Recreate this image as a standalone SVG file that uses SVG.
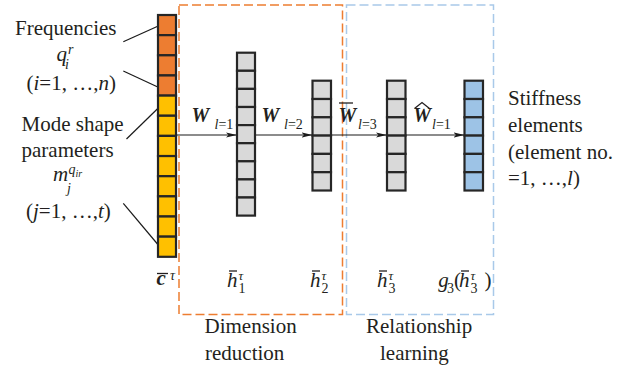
<svg xmlns="http://www.w3.org/2000/svg" width="625" height="368" viewBox="0 0 625 368">
<defs>
<marker id="ah" markerWidth="12" markerHeight="6" refX="11" refY="3" orient="auto" markerUnits="userSpaceOnUse">
<path d="M0,0.5 L11,3 L0,5.5 L2.5,3 Z" fill="#1a1a1a"/>
</marker>
<rect id="cO" width="18" height="20.15" fill="#ED7D31" stroke="#262626" stroke-width="2.2"/>
<rect id="cY" width="18" height="20.15" fill="#FFC000" stroke="#262626" stroke-width="2.2"/>
<rect id="cG1" width="18" height="18.1" fill="#D9D9D9" stroke="#262626" stroke-width="2.2"/>
<rect id="cG" width="18.5" height="18.3" fill="#D9D9D9" stroke="#262626" stroke-width="2.2"/>
<rect id="cB" width="18.5" height="18.3" fill="#9DC3E6" stroke="#262626" stroke-width="2.2"/>
</defs>

<g id="boxes">
<rect id="dim-box" x="179" y="5" width="163.5" height="309.5" fill="none" stroke="#ED7D31" stroke-width="1.5" stroke-dasharray="9 4"/>
<rect id="rel-box" x="346.5" y="5" width="147" height="309.5" fill="none" stroke="#A9C9E9" stroke-width="1.5" stroke-dasharray="9 4"/>
</g>

<g id="connectors" stroke="#1a1a1a" stroke-width="1.2" fill="none">
<line x1="176" y1="135" x2="237" y2="135" marker-end="url(#ah)"/>
<line x1="255" y1="135" x2="312.5" y2="135" marker-end="url(#ah)"/>
<line x1="331" y1="135" x2="387" y2="135" marker-end="url(#ah)"/>
<line x1="405.5" y1="135" x2="464.5" y2="135" marker-end="url(#ah)"/>
<line x1="123.3" y1="41.7" x2="158.3" y2="26"/>
<line x1="123.3" y1="71" x2="158.3" y2="87.3"/>
<line x1="126.5" y1="139" x2="158.3" y2="108"/>
<line x1="123.3" y1="203.3" x2="158.3" y2="245"/>
</g>

<g id="input">
<use href="#cO" x="158" y="15"/>
<use href="#cO" x="158" y="35.15"/>
<use href="#cO" x="158" y="55.3"/>
<use href="#cO" x="158" y="75.45"/>
<use href="#cY" x="158" y="95.6"/>
<use href="#cY" x="158" y="115.75"/>
<use href="#cY" x="158" y="135.9"/>
<use href="#cY" x="158" y="156.05"/>
<use href="#cY" x="158" y="176.2"/>
<use href="#cY" x="158" y="196.35"/>
<use href="#cY" x="158" y="216.5"/>
<use href="#cY" x="158" y="236.65"/>
</g>

<g id="hidden1">
<use href="#cG1" x="237" y="52.7"/>
<use href="#cG1" x="237" y="70.8"/>
<use href="#cG1" x="237" y="88.9"/>
<use href="#cG1" x="237" y="107"/>
<use href="#cG1" x="237" y="125.1"/>
<use href="#cG1" x="237" y="143.2"/>
<use href="#cG1" x="237" y="161.3"/>
<use href="#cG1" x="237" y="179.4"/>
<use href="#cG1" x="237" y="197.5"/>
</g>

<g id="hidden2">
<use href="#cG" x="312.5" y="80.7"/>
<use href="#cG" x="312.5" y="99"/>
<use href="#cG" x="312.5" y="117.3"/>
<use href="#cG" x="312.5" y="135.6"/>
<use href="#cG" x="312.5" y="153.9"/>
<use href="#cG" x="312.5" y="172.2"/>
</g>

<g id="hidden3">
<use href="#cG" x="387" y="80.7"/>
<use href="#cG" x="387" y="99"/>
<use href="#cG" x="387" y="117.3"/>
<use href="#cG" x="387" y="135.6"/>
<use href="#cG" x="387" y="153.9"/>
<use href="#cG" x="387" y="172.2"/>
</g>

<g id="output">
<use href="#cB" x="464.5" y="80.7"/>
<use href="#cB" x="464.5" y="99"/>
<use href="#cB" x="464.5" y="117.3"/>
<use href="#cB" x="464.5" y="135.6"/>
<use href="#cB" x="464.5" y="153.9"/>
<use href="#cB" x="464.5" y="172.2"/>
</g>

<g id="labels-left">
<text font-family="Times New Roman" font-size="21" fill="#231f20" x="15" y="35">Frequencies</text>
<text font-family="Times New Roman" font-size="21" fill="#231f20" font-style="italic" x="56.5" y="61">q</text>
<text font-family="Times New Roman" font-size="14" fill="#231f20" font-style="italic" x="68" y="54">r</text>
<text font-family="Times New Roman" font-size="14" fill="#231f20" font-style="italic" x="65" y="69">i</text>
<text font-family="Times New Roman" font-size="21" fill="#231f20" x="26.5" y="90">(<tspan font-style="italic">i</tspan>=1, …,<tspan font-style="italic">n</tspan>)</text>
<text font-family="Times New Roman" font-size="21" fill="#231f20" x="21.5" y="130.5">Mode shape</text>
<text font-family="Times New Roman" font-size="21" fill="#231f20" x="21.5" y="156.7">parameters</text>
<text font-family="Times New Roman" font-size="21" fill="#231f20" font-style="italic" x="53" y="181">m</text>
<text font-family="Times New Roman" font-size="14" fill="#231f20" font-style="italic" x="68.5" y="174">q</text>
<text font-family="Times New Roman" font-size="10" fill="#231f20" font-style="italic" x="75.5" y="177">ir</text>
<text font-family="Times New Roman" font-size="14" fill="#231f20" font-style="italic" x="67" y="193">j</text>
<text font-family="Times New Roman" font-size="21" fill="#231f20" x="26" y="218">(<tspan font-style="italic">j</tspan>=1, …,<tspan font-style="italic">t</tspan>)</text>
</g>

<g id="labels-right">
<text font-family="Times New Roman" font-size="21" fill="#231f20" x="508" y="105">Stiffness</text>
<text font-family="Times New Roman" font-size="21" fill="#231f20" x="508" y="132">elements</text>
<text font-family="Times New Roman" font-size="21" fill="#231f20" x="508" y="159">(element no.</text>
<text font-family="Times New Roman" font-size="21" fill="#231f20" x="508" y="185">=1, …,<tspan font-style="italic">l</tspan>)</text>
</g>

<g id="weights">
<text font-family="Times New Roman" font-size="20" fill="#231f20" font-style="italic" font-weight="bold" x="191.5" y="122">W</text>
<text font-family="Times New Roman" font-size="14" fill="#231f20" x="214.5" y="128.5"><tspan font-style="italic">l</tspan>=1</text>
<text font-family="Times New Roman" font-size="20" fill="#231f20" font-style="italic" font-weight="bold" x="261.5" y="122">W</text>
<text font-family="Times New Roman" font-size="14" fill="#231f20" x="284" y="128.5"><tspan font-style="italic">l</tspan>=2</text>
<text font-family="Times New Roman" font-size="20" fill="#231f20" font-style="italic" font-weight="bold" x="338.5" y="122">W</text>
<line x1="339" y1="103" x2="353" y2="103" stroke="#231f20" stroke-width="1.3"/>
<text font-family="Times New Roman" font-size="14" fill="#231f20" x="358" y="128.5"><tspan font-style="italic">l</tspan>=3</text>
<text font-family="Times New Roman" font-size="20" fill="#231f20" font-style="italic" font-weight="bold" x="413.3" y="122">W</text>
<path d="M414.5,108.5 L422,102.5 L429.5,108.5" stroke="#231f20" stroke-width="1.3" fill="none"/>
<text font-family="Times New Roman" font-size="14" fill="#231f20" x="432" y="128.5"><tspan font-style="italic">l</tspan>=1</text>
</g>

<g id="labels-bottom">
<text font-family="Times New Roman" font-size="21" fill="#231f20" font-style="italic" font-weight="bold" x="156.5" y="285">c</text>
<line x1="157" y1="273.5" x2="168" y2="273.5" stroke="#231f20" stroke-width="1.3"/>
<text font-family="Times New Roman" font-size="14" fill="#231f20" font-style="italic" x="170" y="280">τ</text>

<text font-family="Times New Roman" font-size="21" fill="#231f20" font-style="italic" x="227" y="287">h</text>
<line x1="229" y1="271" x2="237" y2="271" stroke="#231f20" stroke-width="1.3"/>
<text font-family="Times New Roman" font-size="13" fill="#231f20" font-style="italic" x="238.5" y="280">τ</text>
<text font-family="Times New Roman" font-size="14" fill="#231f20" x="238.5" y="293">1</text>

<text font-family="Times New Roman" font-size="21" fill="#231f20" font-style="italic" x="310" y="287">h</text>
<line x1="312" y1="271" x2="320" y2="271" stroke="#231f20" stroke-width="1.3"/>
<text font-family="Times New Roman" font-size="13" fill="#231f20" font-style="italic" x="321.5" y="280">τ</text>
<text font-family="Times New Roman" font-size="14" fill="#231f20" x="321.5" y="293">2</text>

<text font-family="Times New Roman" font-size="21" fill="#231f20" font-style="italic" x="377" y="287">h</text>
<line x1="379" y1="271" x2="387" y2="271" stroke="#231f20" stroke-width="1.3"/>
<text font-family="Times New Roman" font-size="13" fill="#231f20" font-style="italic" x="388.5" y="280">τ</text>
<text font-family="Times New Roman" font-size="14" fill="#231f20" x="388.5" y="293">3</text>

<text font-family="Times New Roman" font-size="21" fill="#231f20" font-style="italic" x="438.3" y="287">g</text>
<text font-family="Times New Roman" font-size="14" fill="#231f20" x="447" y="293">3</text>
<text font-family="Times New Roman" font-size="21" fill="#231f20" x="454" y="287">(</text>
<text font-family="Times New Roman" font-size="21" fill="#231f20" font-style="italic" x="459" y="287">h</text>
<line x1="461" y1="271" x2="469" y2="271" stroke="#231f20" stroke-width="1.3"/>
<text font-family="Times New Roman" font-size="13" fill="#231f20" font-style="italic" x="470.5" y="280">τ</text>
<text font-family="Times New Roman" font-size="14" fill="#231f20" x="470.5" y="293">3</text>
<text font-family="Times New Roman" font-size="21" fill="#231f20" x="484.5" y="287">)</text>

<text font-family="Times New Roman" font-size="21" fill="#231f20" x="204.5" y="333">Dimension</text>
<text font-family="Times New Roman" font-size="21" fill="#231f20" x="205" y="360">reduction</text>
<text font-family="Times New Roman" font-size="21" fill="#231f20" x="366" y="333">Relationship</text>
<text font-family="Times New Roman" font-size="21" fill="#231f20" x="380" y="360">learning</text>
</g>
</svg>
